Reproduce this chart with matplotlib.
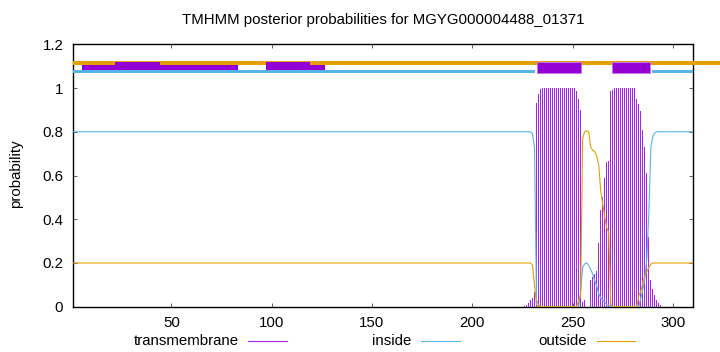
import matplotlib
matplotlib.use("Agg")
import matplotlib.pyplot as plt
from matplotlib.patches import Rectangle
from matplotlib.lines import Line2D

plt.rcParams['font.family'] = ['Liberation Sans', 'DejaVu Sans']
FS = 10.8
plt.rcParams['font.size'] = FS

title = "TMHMM posterior probabilities for MGYG000004488_01371"
seq_len = 310

# transmembrane posterior probability (impulses), residues 226..294
tm_pos = list(range(226, 295))
tm_prob = [0.005, 0.01, 0.015, 0.03, 0.04, 0.065, 0.93, 0.975,
           0.995, 0.999, 1.0, 1.0, 1.0, 1.0, 1.0, 1.0, 1.0,
           1.0, 1.0, 1.0, 1.0, 1.0, 1.0, 1.0, 1.0, 0.999,
           0.986, 0.95, 0.90, 0.02, 0.03, 0.0, 0.0,
           0.12, 0.135, 0.15, 0.165, 0.29, 0.44, 0.50, 0.59, 0.66, 0.665,
           0.985, 0.993, 0.998, 1.0, 1.0, 1.0, 1.0, 1.0, 1.0, 1.0, 1.0, 1.0, 1.0,
           0.95, 0.925, 0.895, 0.81, 0.73, 0.61, 0.32, 0.12, 0.08, 0.055,
           0.03, 0.017, 0.008]

# inside probability (key points of the line)
inside_x = [1, 229, 230, 231, 232, 233, 234, 253, 254, 255, 256, 257, 258,
            259, 260, 261, 262, 263, 264, 265, 266, 267, 268, 269, 283, 284,
            285, 286, 287, 288, 289, 290, 291, 292, 310]
inside_y = [0.8, 0.8, 0.79, 0.73, 0.03, 0.01, 0.0, 0.0, 0.07, 0.18, 0.195, 0.2,
            0.19, 0.17, 0.15, 0.12, 0.095, 0.06, 0.04, 0.03, 0.02, 0.01, 0.005,
            0.0, 0.0, 0.04, 0.08, 0.13, 0.22, 0.43, 0.73, 0.78, 0.795, 0.8, 0.8]

# outside probability (key points of the line)
outside_x = [1, 229, 230, 231, 232, 233, 252, 253, 254, 255, 256, 257, 258,
             259, 260, 261, 262, 263, 264, 265, 266, 267, 268, 269, 270, 282,
             283, 284, 285, 286, 287, 288, 289, 290, 310]
outside_y = [0.2, 0.2, 0.19, 0.1, 0.01, 0.0, 0.0, 0.03, 0.05, 0.77, 0.8, 0.805,
             0.8, 0.73, 0.715, 0.71, 0.69, 0.65, 0.53, 0.47, 0.41, 0.36, 0.34,
             0.01, 0.0, 0.0, 0.05, 0.07, 0.11, 0.145, 0.16, 0.18, 0.195, 0.2, 0.2]

# topology bars at the top (start, end)
inside_segments = [(1, 231.3), (289.7, 310)]
tm_segments = [(232.1, 254.4), (269.4, 288.5)]
extra_low_boxes = [(5.4, 83.3), (97.4, 126.5)]
extra_high_boxes = [(22.1, 44.5), (97.4, 119.2)]

C_TM = '#9400D3'
C_IMP = '#a226e4'
C_IN = '#56B4E9'
C_OUT = '#E69F00'

fig = plt.figure(figsize=(7.2, 3.52), dpi=100)
ax = fig.add_axes([73/720, 1-306.7/352, (693-73)/720, (306.7-44.3)/352])

ax.bar(tm_pos, tm_prob, width=0.5, color=C_IMP, linewidth=0, zorder=2)
ax.plot(inside_x, inside_y, color=C_IN, lw=0.8, zorder=3)
ax.plot(outside_x, outside_y, color=C_OUT, lw=0.8, zorder=3)

# top bars
ax.add_patch(Rectangle((1, 1.1054), 329, 0.0183, facecolor=C_OUT,
                       edgecolor='none', clip_on=False, zorder=4))
for s, e in inside_segments:
    ax.add_patch(Rectangle((s, 1.0705), e - s, 0.012, facecolor=C_IN,
                           edgecolor='none', zorder=4))
for s, e in extra_low_boxes:
    ax.add_patch(Rectangle((s, 1.0825), e - s, 0.024, facecolor=C_TM,
                           edgecolor='none', zorder=5))
for s, e in extra_high_boxes:
    ax.add_patch(Rectangle((s, 1.0825), e - s, 0.0365, facecolor=C_TM,
                           edgecolor='none', zorder=5))
for s, e in tm_segments:
    ax.add_patch(Rectangle((s, 1.0705), e - s, 0.0505, facecolor=C_TM,
                           edgecolor='#c678e6', lw=0.7, zorder=5))

ax.set_xlim(1, seq_len)
ax.set_ylim(0, 1.2)
ax.set_xticks([50, 100, 150, 200, 250, 300])
ax.set_yticks([0, 0.2, 0.4, 0.6, 0.8, 1.0, 1.2])
ax.set_yticklabels(['0', '0.2', '0.4', '0.6', '0.8', '1', '1.2'])
ax.tick_params(direction='in', length=3, width=0.6, color='#444444',
               top=True, right=True, pad=7, labelsize=FS)
for sp in ax.spines.values():
    sp.set_linewidth(1.0)
    sp.set_color('black')

fig.text(383/720, 1-20/352, title, ha='center', va='center', fontsize=FS)
fig.text(16/720, 1-173.5/352, 'probability', rotation=90, ha='center',
         va='center', fontsize=FS)

# legend row
leg_y = 1 - 341/352
for label, xend, l0, l1, c in [('transmembrane', 239, 248, 287, C_IMP),
                               ('inside', 411, 421, 460, C_IN),
                               ('outside', 587, 597, 635, C_OUT)]:
    fig.text(xend/720, leg_y, label, ha='right', va='center', fontsize=FS)
    fig.add_artist(Line2D([l0/720, l1/720], [leg_y, leg_y], color=c, lw=0.8,
                          transform=fig.transFigure))

fig.savefig('out.png', dpi=100)
